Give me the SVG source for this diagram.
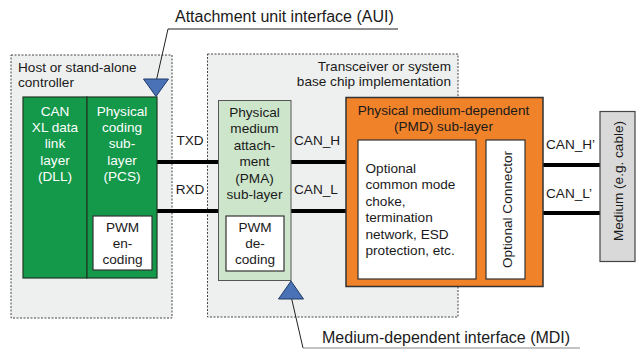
<svg xmlns="http://www.w3.org/2000/svg" width="636" height="349" viewBox="0 0 636 349">
<style>
text{font-family:"Liberation Sans",Arial,sans-serif;font-size:13.6px;fill:#1a1a1a}
.w{fill:#ffffff}
.c{text-anchor:middle}
.r{text-anchor:end}
.dash{fill:#eef0ef;stroke:#444;stroke-width:1;stroke-dasharray:2,1.5}
.green{fill:#14984a;stroke:#1d3a24;stroke-width:1.2}
.pma{fill:#cde6cb;stroke:#555;stroke-width:1}
.white{fill:#fff;stroke:#333;stroke-width:1.2}
.orange{fill:#f0822a;stroke:#333;stroke-width:1.5}
.medium{fill:#d9d9d9;stroke:#444;stroke-width:1.2}
.tri{fill:#4a72b6;stroke:#233c66;stroke-width:1}
.bus{stroke:#000;stroke-width:4;fill:none}
.lead{stroke:#222;stroke-width:1;fill:none}
.ul{stroke:#888;stroke-width:1;fill:none}
</style>
<rect width="636" height="349" fill="#fff"/>
<g id="host">
<rect class="dash" x="11" y="55" width="161" height="263"/>
<text x="18" y="72">Host or stand-alone</text>
<text x="18" y="87">controller</text>
</g>
<g id="transceiver">
<rect class="dash" x="207.5" y="54" width="250.5" height="263"/>
<text class="r" x="451" y="71">Transceiver or system</text>
<text class="r" x="451" y="86">base chip implementation</text>
</g>
<g id="connectors">
<line class="bus" x1="157" y1="162" x2="218" y2="162"/>
<line class="bus" x1="157" y1="211" x2="218" y2="211"/>
<line class="bus" x1="291" y1="162" x2="358" y2="162"/>
<line class="bus" x1="291" y1="211" x2="358" y2="211"/>
<line class="bus" x1="476" y1="165" x2="486" y2="165"/>
<line class="bus" x1="476" y1="213" x2="486" y2="213"/>
<line class="bus" x1="525" y1="165" x2="600" y2="165"/>
<line class="bus" x1="525" y1="213" x2="600" y2="213"/>
<polyline class="lead" points="156,82 168,29 398,29"/>
<polyline class="lead" points="291,296 303,348"/>
<line class="ul" x1="303" y1="348" x2="580" y2="348"/>
<text class="c" x="190" y="145">TXD</text>
<text class="c" x="190" y="194">RXD</text>
<text x="294" y="145">CAN_H</text>
<text x="294" y="194">CAN_L</text>
<text x="546" y="149">CAN_H’</text>
<text x="546" y="198">CAN_L’</text>
</g>
<g id="dll">
<rect class="green" x="23" y="97" width="64" height="181"/>
<text class="c w" x="55" y="115.5">CAN</text>
<text class="c w" x="55" y="132">XL data</text>
<text class="c w" x="55" y="148.3">link</text>
<text class="c w" x="55" y="164.7">layer</text>
<text class="c w" x="55" y="181">(DLL)</text>
</g>
<g id="pcs">
<rect class="green" x="87" y="97" width="70" height="181"/>
<text class="c w" x="122" y="115.5">Physical</text>
<text class="c w" x="122" y="132">coding</text>
<text class="c w" x="122" y="148.3">sub-</text>
<text class="c w" x="122" y="164.7">layer</text>
<text class="c w" x="122" y="181">(PCS)</text>
</g>
<g id="pwm-encoding">
<rect class="white" x="93" y="216" width="59" height="54"/>
<text class="c" x="122.5" y="231.7">PWM</text>
<text class="c" x="122.5" y="248">en-</text>
<text class="c" x="122.5" y="264.3">coding</text>
</g>
<g id="pma">
<rect class="pma" x="218.5" y="100.5" width="72.5" height="180"/>
<text class="c" x="254.5" y="116.5">Physical</text>
<text class="c" x="254.5" y="133">medium</text>
<text class="c" x="254.5" y="149.5">attach-</text>
<text class="c" x="254.5" y="166">ment</text>
<text class="c" x="254.5" y="182.5">(PMA)</text>
<text class="c" x="254.5" y="199">sub-layer</text>
</g>
<g id="pwm-decoding">
<rect class="white" x="226" y="216" width="58" height="55"/>
<text class="c" x="255" y="231.7">PWM</text>
<text class="c" x="255" y="248">de-</text>
<text class="c" x="255" y="264.3">coding</text>
</g>
<g id="pmd">
<rect class="orange" x="346" y="97.5" width="197" height="189"/>
<text class="c" x="443.5" y="115">Physical medium-dependent</text>
<text class="c" x="443.5" y="131">(PMD) sub-layer</text>
</g>
<g id="optional-components">
<rect class="white" x="358" y="140" width="118" height="139"/>
<text x="365.5" y="173">Optional</text>
<text x="365.5" y="189.3">common mode</text>
<text x="365.5" y="205.7">choke,</text>
<text x="365.5" y="222">termination</text>
<text x="365.5" y="238.5">network, ESD</text>
<text x="365.5" y="255">protection, etc.</text>
</g>
<g id="optional-connector">
<rect class="white" x="486" y="140" width="39" height="139"/>
<text class="c" transform="translate(512,209.5) rotate(-90)">Optional Connector</text>
</g>
<g id="medium">
<rect class="medium" x="600" y="111.5" width="35" height="150"/>
<text class="c" transform="translate(623,181) rotate(-90)">Medium (e.g. cable)</text>
</g>
<g id="aui">
<polygon class="tri" points="143.5,79 168.5,79 156,96.5"/>
<text x="175" y="22" style="font-size:16px">Attachment unit interface (AUI)</text>
</g>
<g id="mdi">
<polygon class="tri" points="291,281 303.5,299 278.5,299"/>
<text x="322" y="343" style="font-size:16px">Medium-dependent interface (MDI)</text>
</g>
</svg>
